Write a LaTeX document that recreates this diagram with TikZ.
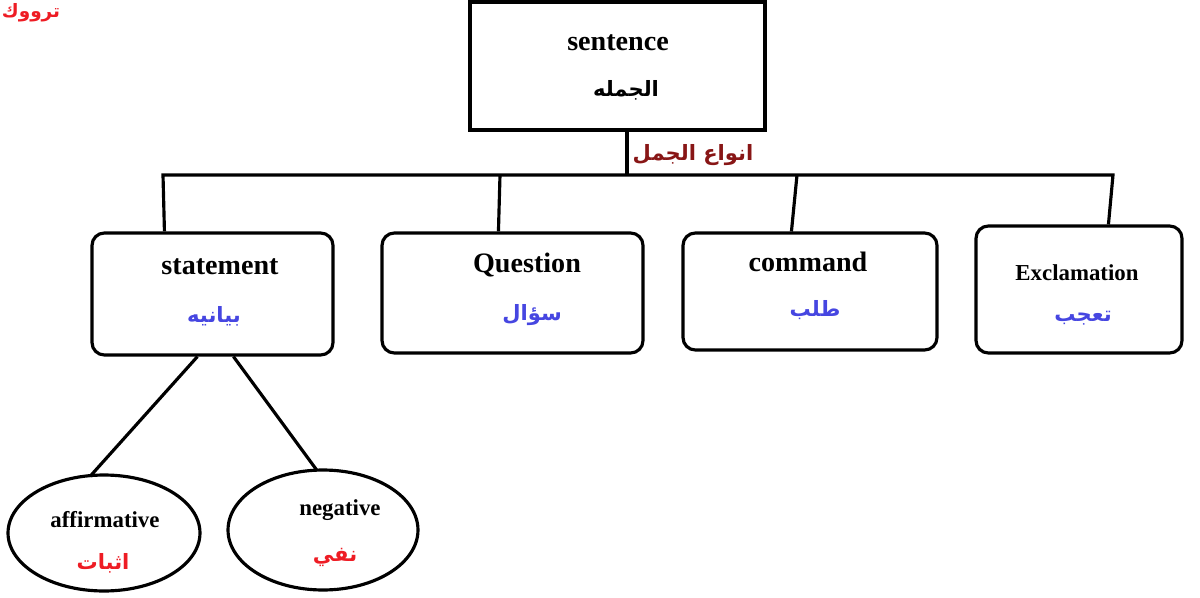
\documentclass[tikz,border=0pt]{standalone}
\usepackage{fontspec}
\setmainfont{Liberation Serif}
\newfontfamily\arabicfont[Script=Arabic]{DejaVu Sans}
\TeXXeTstate=1
\usetikzlibrary{shapes.geometric,calc}
\definecolor{arblue}{RGB}{70,70,225}
\definecolor{arred}{RGB}{238,28,36}
\definecolor{ardark}{RGB}{136,22,22}
\begin{document}
\begin{tikzpicture}[x=0.02cm,y=-0.02cm,line width=1.8pt,
  sqbox/.style={draw,rectangle,inner sep=0pt,line width=1.8pt},
  rbox/.style={draw,rectangle,rounded corners=7pt,inner sep=0pt,line width=1.8pt},
  ell/.style={draw,ellipse,inner sep=0pt,line width=1.8pt},
  enbig/.style={inner sep=0pt,font=\fontsize{16}{18}\selectfont\bfseries},
  ensmall/.style={inner sep=0pt,font=\fontsize{13}{15}\selectfont\bfseries},
  ar/.style={inner sep=0pt,font=\fontsize{12}{14}\selectfont\arabicfont\bfseries}]
\useasboundingbox (0,0) rectangle (1200,598);

% boxes
\node[sqbox,minimum width=5.9cm,minimum height=2.56cm] (se) at (617.5,66) {};
\node[rbox,minimum width=4.82cm,minimum height=2.44cm] (st) at (212.5,294) {};
\node[rbox,minimum width=5.22cm,minimum height=2.4cm] (qu) at (512.5,293) {};
\node[rbox,minimum width=5.08cm,minimum height=2.34cm] (co) at (810,291.5) {};
\node[rbox,minimum width=4.12cm,minimum height=2.54cm] (ex) at (1079,289.5) {};
\node[ell,minimum width=3.84cm,minimum height=2.32cm] (af) at (104,533) {};
\node[ell,minimum width=3.8cm,minimum height=2.4cm] (ne) at (323,530) {};

% texts
\node[enbig] (seE) at (618,43) {sentence};
\node[ar,text=black] (seA) at (626,90) {\beginR الجمله\endR};
\node[enbig] (stE) at (220,267) {statement};
\node[ar,text=arblue] (stA) at (214,316) {\beginR بيانيه\endR};
\node[enbig] (quE) at (527,265) {Question};
\node[ar,text=arblue] (quA) at (532,315) {\beginR سؤال\endR};
\node[enbig] (coE) at (808,262) {command};
\node[ar,text=arblue] (coA) at (815,310) {\beginR طلب\endR};
\node[ensmall] (exE) at (1077,273) {Exclamation};
\node[ar,text=arblue] (exA) at (1083,318) {\beginR تعجب\endR};
\node[ensmall] (afE) at (105,520) {affirmative};
\node[ar,text=arred] (afA) at (103,563) {\beginR اثبات\endR};
\node[ensmall] (neE) at (340,510) {negative};
\node[ar,text=arred] (neA) at (335,557) {\beginR نفي\endR};
\node[ar,text=ardark] (lbl) at (693,155) {\beginR انواع الجمل\endR};
\node[ar,text=arred,font=\fontsize{10.5}{12}\selectfont\arabicfont\bfseries] (tag) at (31,13) {\beginR ترووك\endR};

% connectors
\coordinate (hub) at (627,175);
\coordinate (b1) at (163,175);
\coordinate (b2) at (500,175);
\coordinate (b3) at (797,175);
\coordinate (b4) at (1113,175);
\draw (se.south -| hub) -- (hub);
\draw ($(st.north west)+(74,0)$) -- (b1) -- (b4) -- ($(ex.north west)+(134,0)$);
\draw (b2) -- ($(qu.north west)+(118,0)$);
\draw (b3) -- ($(co.north west)+(110,0)$);
\draw ($(st.south west)+(107,0)$) -- ($(af.north)+(-14,3)$);
\draw ($(st.south west)+(143,0)$) -- ($(ne.north)+(-6,2)$);
\end{tikzpicture}
\end{document}
